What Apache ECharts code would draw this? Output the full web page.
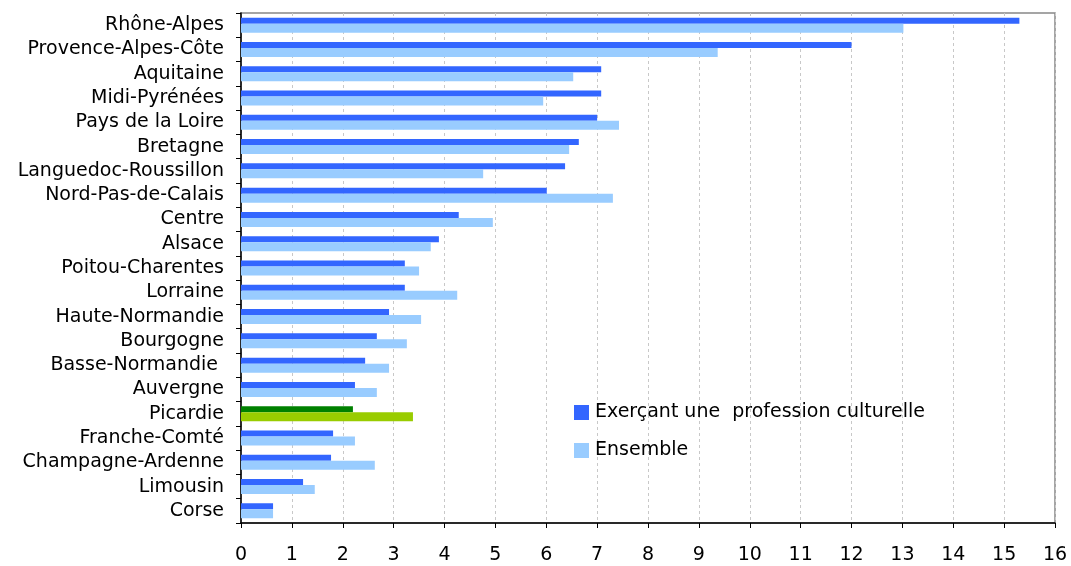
<!DOCTYPE html>
<html>
<head>
<meta charset="utf-8" />
<script src="https://cdn.jsdelivr.net/npm/echarts@6/dist/echarts.min.js" type="text/javascript" charset="utf-8"></script>
<title>Régions</title>
<style>
  html, body { margin: 0; padding: 0; background: #fff; }
</style>
</head>
<body>
<div id="main" style="width: 1071px;height:566px;"></div>
<script type="text/javascript">
// categories, haut en bas
var regions = ['Rhône-Alpes', 'Provence-Alpes-Côte', 'Aquitaine', 'Midi-Pyrénées', 'Pays de la Loire',
  'Bretagne', 'Languedoc-Roussillon', 'Nord-Pas-de-Calais', 'Centre', 'Alsace', 'Poitou-Charentes',
  'Lorraine', 'Haute-Normandie', 'Bourgogne', 'Basse-Normandie ', 'Auvergne', 'Picardie',
  'Franche-Comté', 'Champagne-Ardenne', 'Limousin', 'Corse'];
// Exerçant une profession culturelle
var culturel = [15.3, 12.0, 7.08, 7.08, 7.0, 6.64, 6.37, 6.01, 4.28, 3.89, 3.22,
  3.22, 2.91, 2.67, 2.44, 2.24, 2.2, 1.81, 1.77, 1.22, 0.63];
// Ensemble
var ensemble = [13.02, 9.37, 6.53, 5.94, 7.43, 6.45, 4.76, 7.31, 4.95, 3.73, 3.5,
  4.25, 3.54, 3.26, 2.91, 2.67, 3.38, 2.24, 2.63, 1.45, 0.63];
var xTicks = [0, 16, 1];
var highlight = 'Picardie';

var font = 'DejaVu Sans';
var dom = document.getElementById("main");
var myChart = echarts.init(dom);

// la région mise en avant change de couleur
function buildData(values, hiColor) {
  return values.map(function (v, i) {
    if (regions[i] == highlight) {
      return { value: v, itemStyle: { color: hiColor } };
    }
    return v;
  });
}

var option = {
  animation: false,
  backgroundColor: '#fff',
  grid: {
    left: 241, right: 16, top: 13, bottom: 43,
    show: true, borderColor: '#888', borderWidth: 1.5
  },
  legend: {
    orient: 'vertical',
    left: 569, top: 398,
    itemWidth: 15, itemHeight: 15, itemGap: 19,
    icon: 'rect',
    textStyle: { fontFamily: font, fontSize: 19, color: '#000', padding: [0, 0, 0, 1] },
    data: ['Exerçant une  profession culturelle', 'Ensemble']
  },
  xAxis: {
    type: 'value',
    min: xTicks[0], max: xTicks[1], interval: xTicks[2],
    axisLine: { show: true, lineStyle: { color: '#000', width: 1.5 } },
    axisTick: { show: true, length: 5, lineStyle: { color: '#000' } },
    axisLabel: { fontFamily: font, fontSize: 19, color: '#000', margin: 23 },
    splitLine: { show: true, lineStyle: { color: '#c8c8c8', type: [3, 3] } }
  },
  yAxis: {
    type: 'category',
    inverse: true,
    data: regions,
    axisLine: { show: true, lineStyle: { color: '#000', width: 1.5 } },
    axisTick: { show: true, length: 5, interval: 0, lineStyle: { color: '#000' } },
    axisLabel: { fontFamily: font, fontSize: 19, color: '#000', margin: 17, interval: 0 },
    splitLine: { show: false }
  },
  series: [{
    name: 'Exerçant une  profession culturelle',
    type: 'bar',
    barWidth: 6,
    barGap: 0,
    itemStyle: { color: '#3366ff' },
    data: buildData(culturel, '#008000')
  }, {
    name: 'Ensemble',
    type: 'bar',
    barWidth: 9,
    barGap: 0,
    itemStyle: { color: '#99ccff' },
    data: buildData(ensemble, '#99cc00')
  }]
};
myChart.setOption(option);
</script>
</body>
</html>
